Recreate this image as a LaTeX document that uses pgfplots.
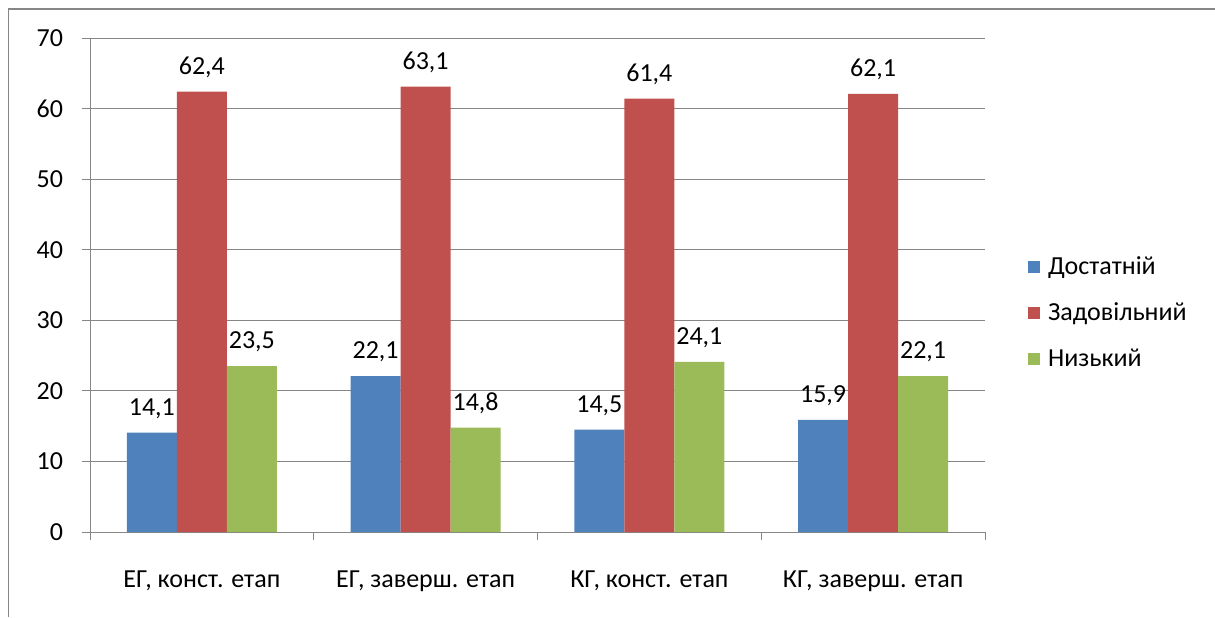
\documentclass[border=0pt]{standalone}
\usepackage{fontspec}
\setmainfont{Carlito}
\usepackage{pgfplots}
\pgfplotsset{compat=1.18}
\definecolor{cblue}{RGB}{79,129,189}
\definecolor{cred}{RGB}{192,80,77}
\definecolor{cgreen}{RGB}{155,187,89}
\definecolor{gridc}{RGB}{134,134,134}
\begin{document}
\begin{tikzpicture}[font=\fontsize{13}{15.6}\selectfont]
\useasboundingbox (0,0) rectangle (607.5pt,308.5pt);
\draw[color=gridc, line width=0.8pt] (4.25pt,0) -- (4.25pt,304pt) -- (607.5pt,304pt);
\begin{axis}[
  at={(45pt,42.5pt)}, anchor=south west,
  scale only axis, width=447.5pt, height=247pt,
  ybar=0pt, bar width=25pt,
  xmin=-0.5, xmax=3.5, ymin=0, ymax=70,
  ytick={0,10,...,70},
  xtick={0,1,2,3},
  xticklabels={ЕГ{,} конст. етап, ЕГ{,} заверш. етап, КГ{,} конст. етап, КГ{,} заверш. етап},
  major x tick style={draw=none},
  extra x ticks={-0.5,0.5,1.5,2.5,3.5},
  extra x tick labels={},
  extra x tick style={major tick length=4pt, tick align=outside, major x tick style={draw=gridc}, grid=none},
  axis x line*=bottom, axis y line*=left,
  axis line style={draw=gridc, -},
  tick align=outside, major tick length=4pt,
  tick style={draw=gridc, thin},
  ymajorgrids, grid style={draw=gridc, thin},
  xticklabel style={yshift=-12pt},
  yticklabel style={xshift=-6pt},
  /pgf/number format/assume math mode=true,
  nodes near coords,
  nodes near coords style={/pgf/number format/.cd, fixed, fixed zerofill, precision=1, use comma, assume math mode=true, /tikz/.cd, yshift=3.5pt},
  legend style={at={(1.041,0.443)}, anchor=west, draw=none, fill=none, row sep=8.5pt, /tikz/every even column/.append style={column sep=2pt}},
  legend cell align=left,
  legend image code/.code={\fill[#1] (0pt,-3pt) rectangle (6pt,3pt);\path (8pt,0);},
  clip=false,
]
\addplot[fill=cblue, draw=none] coordinates {(0,14.1) (1,22.1) (2,14.5) (3,15.9)};
\addplot[fill=cred, draw=none] coordinates {(0,62.4) (1,63.1) (2,61.4) (3,62.1)};
\addplot[fill=cgreen, draw=none] coordinates {(0,23.5) (1,14.8) (2,24.1) (3,22.1)};
\legend{Достатній, Задовільний, Низький}
\end{axis}
\end{tikzpicture}
\end{document}
